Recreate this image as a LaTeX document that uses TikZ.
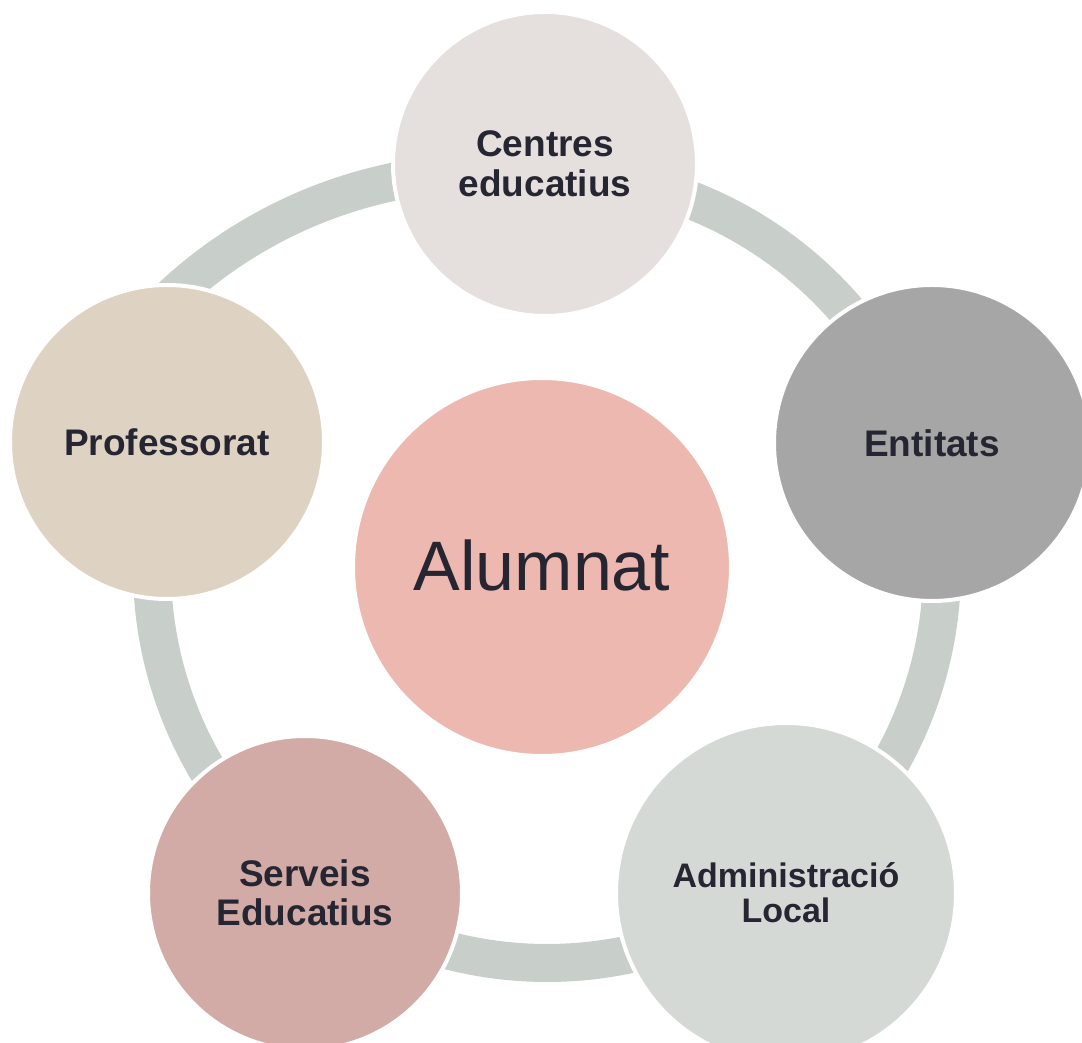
\documentclass[tikz,border=0pt]{standalone}
\usepackage{fontspec}
\setmainfont{Liberation Sans}
\definecolor{ringc}{RGB}{200,206,202}
\definecolor{txt}{RGB}{38,38,50}
\definecolor{cCen}{RGB}{229,223,221}
\definecolor{cEnt}{RGB}{166,166,166}
\definecolor{cAdm}{RGB}{212,217,214}
\definecolor{cSer}{RGB}{211,171,166}
\definecolor{cPro}{RGB}{222,210,195}
\definecolor{cAlu}{RGB}{236,184,176}
\begin{document}
\begin{tikzpicture}[x=1pt,y=1pt,
  bub/.style={circle, draw=white, line width=4pt, inner sep=0pt, align=center,
    text=txt, font=\fontsize{37}{39.5}\selectfont\bfseries},
  ringarc/.style={draw=ringc, line width=38pt}]
\useasboundingbox (0,0) rectangle (1082,1042);
\coordinate (C) at (547,474);
\coordinate (C2) at (488,407);
% ring segments
\draw[ringarc] (C) ++(90:395) arc[start angle=90, end angle=18, radius=395];
\draw[ringarc] (C) ++(18:395) arc[start angle=18, end angle=-54, radius=395];
\draw[ringarc] (C) ++(-54:395) arc[start angle=-54, end angle=-126, radius=395];
\draw[ringarc] (C) ++(234:395) arc[start angle=234, end angle=162, radius=395];
\draw[ringarc] (C2) ++(140:463) arc[start angle=140, end angle=83, radius=463];
% circles
\node[bub, fill=cCen, minimum size=304pt] (cen) at (545,878) {Centres\\educatius};
\node[bub, fill=cEnt, minimum size=316pt] (ent) at (932,599) {Entitats};
\node[bub, fill=cAdm, minimum size=340pt, font=\fontsize{34}{35}\selectfont\bfseries] (adm) at (786,149) {Administració\\Local};
\node[bub, fill=cSer, minimum size=314pt] (ser) at (305,149) {Serveis\\Educatius};
\node[bub, fill=cPro, minimum size=314pt] (pro) at (167,600) {Professorat};
\node[bub, fill=cAlu, minimum size=378pt, font=\fontsize{70}{80}\selectfont] (alu) at (542,475) {\raisebox{4pt}{Alumnat}};
\end{tikzpicture}
\end{document}
